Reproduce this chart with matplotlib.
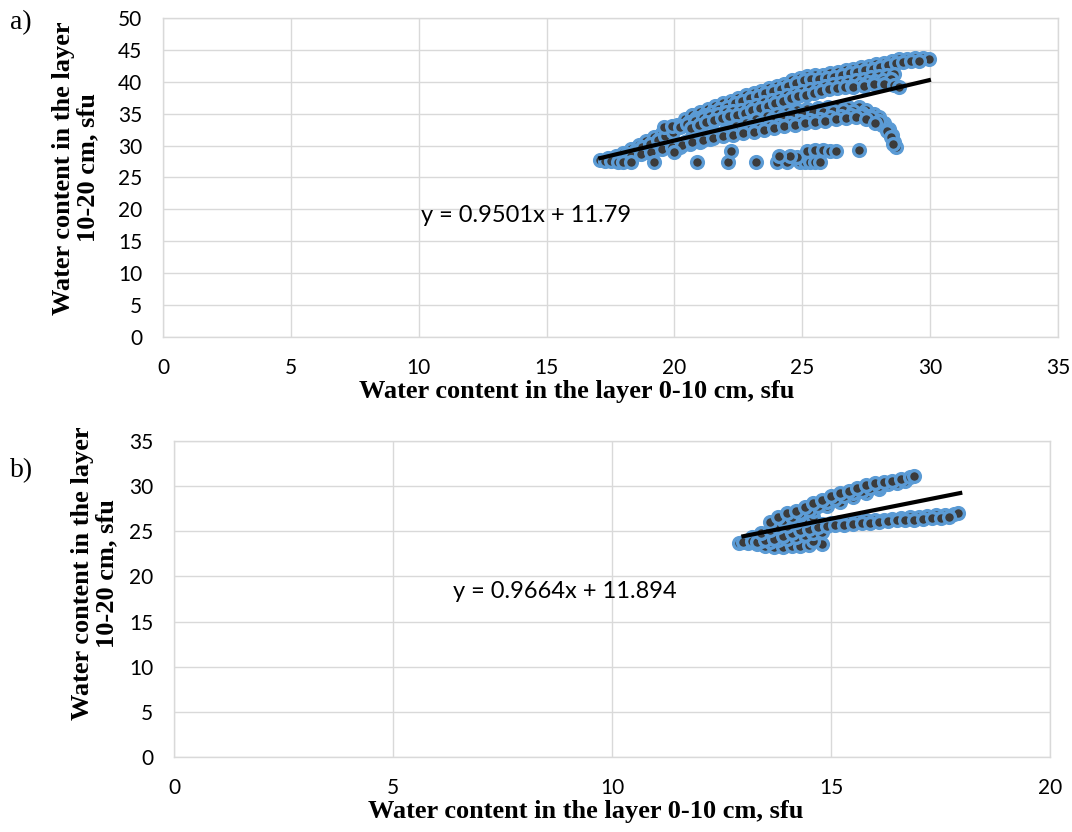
import numpy as np
import matplotlib
matplotlib.use('Agg')
import matplotlib.pyplot as plt

# Scatter of water content, layer 0-10 cm vs layer 10-20 cm (two periods)
# Values, band by band.

# ---- panel a) ----
a_x = [17.1, 17.4, 17.7, 18.0, 18.3, 18.6, 18.9, 19.2, 19.5, 19.8, 20.1, 20.4,
       20.7, 21.0, 21.3, 21.6, 21.9, 22.2, 22.5, 22.8, 23.1, 23.4, 23.7, 24.0,
       24.3, 24.6, 24.9, 25.2, 25.5, 25.8, 26.1, 26.4, 26.7, 27.0, 27.3, 27.6,
       27.9, 28.2, 28.5, 28.8, 29.1, 29.4, 29.7, 29.95,
       17.55, 17.85, 18.15, 18.45, 18.75, 19.05, 19.35, 19.65, 19.95, 20.25,
       20.55, 20.85, 21.15, 21.45, 21.75, 22.05, 22.35, 22.65, 22.95, 23.25,
       23.55, 23.85, 24.15, 24.45, 24.75, 25.05, 25.35, 25.65, 25.95, 26.25,
       26.55, 26.85, 27.15, 27.45, 27.75, 28.05, 28.35, 28.65, 28.95, 29.25,
       29.55,
       19.6, 19.9, 20.2, 20.5, 20.8, 21.1, 21.4, 21.7, 22.0, 22.3, 22.6, 22.9,
       23.2, 23.5, 23.8, 24.1, 24.4, 24.7, 25.0, 25.3, 25.6, 25.9, 26.2, 26.5,
       26.8, 27.1, 27.4, 27.7, 28.0, 28.3, 28.6,
       20.65, 20.95, 21.25, 21.55, 21.85, 22.15, 22.45, 22.75, 23.05, 23.35,
       23.65, 23.95, 24.25, 24.55, 24.85, 25.15, 25.45, 25.75, 26.05, 26.35,
       26.65, 26.95, 27.25, 27.55, 27.85, 28.15, 28.45,
       27.0, 27.4, 27.8, 28.2, 28.6, 28.8,
       20.0, 20.4, 20.8, 21.2, 21.6, 22.0, 22.4, 22.8, 23.2, 23.6, 24.0, 24.4,
       24.8, 25.2, 25.6, 26.0, 26.4, 26.8, 27.2, 27.5, 27.8, 28.0, 28.2, 28.4,
       28.5, 28.6, 28.65,
       20.2, 20.6, 21.0, 21.4, 21.8, 22.2, 22.6, 23.0, 23.4, 23.8, 24.2, 24.6,
       25.0, 25.4, 25.8, 26.2, 26.6, 27.0, 27.35, 27.65, 27.9, 28.1, 28.3,
       28.45, 28.55,
       17.3, 17.7, 18.1, 18.5, 18.9, 19.3, 19.7, 20.1, 20.5, 20.9, 21.3, 21.7,
       22.1, 22.5, 22.9, 23.3, 23.7, 24.1, 24.5, 24.9, 25.3, 25.7, 26.1, 26.5,
       26.9, 27.3, 27.7, 28.0,
       17.5, 17.9, 18.3, 18.7, 19.1, 19.5, 19.9, 20.3, 20.7, 21.1, 21.5, 21.9,
       22.3, 22.7, 23.1, 23.5, 23.9, 24.3, 24.7, 25.1, 25.5, 25.9, 26.3, 26.7,
       27.1, 27.5, 27.85,
       17.8, 18.0, 18.3, 19.2, 20.9, 22.1, 22.2, 23.2, 24.0, 24.4, 24.9, 25.1,
       25.3, 25.5, 25.7, 24.8, 25.2, 25.5, 25.8, 26.1, 26.3, 27.2, 20.0, 24.5,
       24.1]
a_y = [27.7, 28.0, 28.4, 28.9, 29.5, 30.1, 30.7, 31.3, 31.9, 32.5, 33.3, 34.1,
       34.8, 35.3, 35.8, 36.2, 36.6, 37.0, 37.5, 37.9, 38.2, 38.6, 39.0, 39.3,
       39.7, 40.2, 40.6, 40.9, 41.0, 41.1, 41.3, 41.5, 41.8, 42.0, 42.3, 42.5,
       42.8, 43.0, 43.3, 43.5, 43.6, 43.7, 43.7, 43.6,
       27.7, 28.1, 28.6, 29.1, 29.7, 30.3, 30.9, 31.5, 32.2, 33.0,
       33.7, 34.3, 34.8, 35.3, 35.7, 36.1, 36.6, 37.0, 37.4, 37.8,
       38.2, 38.5, 38.9, 39.4, 39.8, 40.2, 40.4, 40.5, 40.6, 40.8,
       41.0, 41.3, 41.5, 41.8, 42.0, 42.3, 42.6, 42.9, 43.1, 43.3,
       43.3,
       32.9, 33.0, 32.9, 33.4, 33.9, 34.3, 34.6, 35.0, 35.2, 35.4, 35.6, 36.0,
       36.4, 36.8, 37.1, 37.5, 37.9, 38.3, 38.6, 38.8, 39.0, 39.3, 39.6, 39.8,
       40.0, 40.2, 40.5, 40.7, 40.9, 41.1, 41.2,
       32.8, 33.3, 33.7, 34.0, 34.3, 34.6, 34.8, 35.1, 35.5, 35.9,
       36.2, 36.6, 37.0, 37.4, 37.8, 38.0, 38.2, 38.5, 38.8, 39.0,
       39.2, 39.4, 39.7, 39.9, 40.1, 40.3, 40.5,
       39.2, 39.4, 39.6, 39.6, 39.5, 39.2,
       30.2, 30.6, 31.0, 31.5, 32.0, 32.5, 33.0, 33.6, 34.1, 34.6, 35.0, 35.3,
       35.6, 35.8, 35.9, 36.0, 36.1, 36.1, 36.0, 35.6, 35.0, 34.4, 33.6, 32.6,
       31.6, 30.6, 29.7,
       29.8, 30.2, 30.6, 31.1, 31.6, 32.1, 32.6, 33.1, 33.6, 34.1, 34.5, 34.8,
       35.0, 35.2, 35.3, 35.4, 35.5, 35.4, 35.1, 34.6, 34.0, 33.2, 32.3,
       31.3, 30.3,
       27.6, 27.9, 28.3, 28.6, 29.0, 29.4, 29.8, 30.3, 30.7, 31.1, 31.4, 31.7,
       32.0, 32.2, 32.5, 32.7, 33.0, 33.2, 33.5, 33.8, 34.0, 34.2, 34.4, 34.6,
       34.8, 34.8, 34.4, 33.8,
       27.6, 27.9, 28.3, 28.6, 29.0, 29.4, 29.8, 30.1, 30.5, 30.9, 31.2, 31.5,
       31.7, 32.0, 32.2, 32.5, 32.7, 33.0, 33.2, 33.5, 33.7, 33.9, 34.1, 34.3,
       34.4, 34.2, 33.6,
       27.4, 27.4, 27.4, 27.4, 27.4, 27.4, 29.2, 27.4, 27.4, 27.4, 27.4, 27.5,
       27.4, 27.4, 27.4, 28.2, 29.2, 29.3, 29.3, 29.2, 29.2, 29.3, 29.0, 28.4,
       28.4]
a_slope, a_icept = 0.9501, 11.79
a_xrange = [17.1, 29.95]

# ---- panel b) ----
b_x = [12.9, 13.1, 13.3, 13.5, 13.7, 13.9, 14.1, 14.3, 14.5, 14.8, 14.6,
       13.2, 13.4, 13.6, 13.8, 14.0, 14.2, 14.4, 14.6, 14.8, 13.5, 13.7, 13.9,
       14.1,
       13.0, 13.2, 13.4, 13.6, 13.8, 14.0, 14.2, 14.4, 14.6, 14.8, 15.0, 15.2,
       15.4, 15.6, 15.8, 16.0, 16.2, 16.4, 16.6, 16.8, 17.0, 17.2, 17.4, 17.6,
       17.8, 17.9,
       13.3, 13.5, 13.7, 13.9, 14.1, 14.3, 14.5, 14.7, 14.9, 15.1, 15.3, 15.5,
       15.7, 15.9, 16.1, 16.3, 16.5, 16.7, 16.9, 17.1, 17.3, 17.5, 17.7,
       13.4, 13.6, 13.8, 14.0, 14.2, 14.4, 14.6,
       14.0, 14.3, 14.6, 14.9, 15.2, 15.5, 15.8, 16.1,
       13.9, 14.1, 14.3, 14.5, 14.7, 14.9, 15.1, 15.3, 15.5, 15.7, 15.9, 16.1,
       16.3, 16.5, 16.7,
       13.6, 13.8, 14.0, 14.2, 14.4, 14.6, 14.8, 15.0, 15.2, 15.4, 15.6, 15.8,
       16.0, 16.2, 16.4, 16.6, 16.8, 16.9]
b_y = [23.7, 23.7, 23.6, 23.4, 23.3, 23.3, 23.4, 23.4, 23.5, 23.6, 23.9,
       24.4, 23.9, 23.8, 24.0, 24.2, 24.4, 24.6, 24.8, 24.9, 24.6, 24.9, 25.1,
       25.3,
       23.8, 23.9, 24.1, 24.3, 24.6, 24.9, 25.2, 25.5, 25.7, 25.8, 25.9, 26.0,
       26.0, 26.1, 26.2, 26.2, 26.3, 26.4, 26.5, 26.6, 26.6, 26.7, 26.8, 26.8,
       26.9, 27.0,
       23.8, 24.0, 24.2, 24.5, 24.8, 25.1, 25.3, 25.5, 25.6, 25.7, 25.7, 25.8,
       25.9, 25.9, 26.0, 26.1, 26.2, 26.3, 26.3, 26.4, 26.5, 26.5, 26.6,
       24.8, 25.2, 25.5, 25.6, 26.0, 26.3, 26.6,
       26.2, 26.8, 27.3, 27.8, 28.3, 28.8, 29.3, 29.7,
       26.2, 26.6, 27.0, 27.4, 27.8, 28.2, 28.6, 28.9, 29.2, 29.5, 29.8, 30.0,
       30.2, 30.4, 30.6,
       26.0, 26.6, 27.0, 27.3, 27.7, 28.1, 28.5, 28.9, 29.2, 29.5, 29.8, 30.1,
       30.3, 30.5, 30.6, 30.8, 31.0, 31.1]
b_slope, b_icept = 0.9664, 11.894
b_xrange = [13.0, 17.95]

plt.rcParams['font.family'] = ['Lato', 'DejaVu Sans']
serif = 'Liberation Serif'
blue = '#5B9BD5'
dark = '#3B3B3B'
grid_col = '#D9D9D9'

fig = plt.figure(figsize=(10.72, 8.32), dpi=100)
ax1 = fig.add_axes([0.152, 0.595, 0.835, 0.3834])
ax2 = fig.add_axes([0.1623, 0.0901, 0.8172, 0.3798])


def style(ax, xmax, ymax, xstep, ystep):
    ax.set_xlim(0, xmax)
    ax.set_ylim(0, ymax)
    ax.set_xticks(np.arange(0, xmax + 1, xstep))
    ax.set_yticks(np.arange(0, ymax + 1, ystep))
    ax.grid(color=grid_col, linewidth=1.0)
    ax.set_axisbelow(True)
    for s in ax.spines.values():
        s.set_color(grid_col)
        s.set_linewidth(1.0)
    ax.tick_params(length=0, labelsize=15, colors='#000000', pad=15)


def panel(ax, xs, ys, slope, icept, xr, eq_pos, eq_text):
    ax.scatter(xs, ys, s=72, facecolor=dark, edgecolor=blue,
               linewidths=2.4, zorder=3)
    tx = np.array(xr)
    ax.plot(tx, slope * tx + icept, color='black', linewidth=3.0, zorder=4)
    ax.text(eq_pos[0], eq_pos[1], eq_text, fontsize=17, ha='left',
            va='center', zorder=5)


style(ax1, 35, 50, 5, 5)
panel(ax1, a_x, a_y, a_slope, a_icept, a_xrange, (10.1, 19.0),
      'y = 0.9501x + 11.79')
style(ax2, 20, 35, 5, 5)
panel(ax2, b_x, b_y, b_slope, b_icept, b_xrange, (6.37, 18.3),
      'y = 0.9664x + 11.894')

ylab = 'Water content in the layer\n10-20 cm, sfu'
xlab = 'Water content in the layer 0-10 cm, sfu'
for ax, ycoords in ((ax1, (-0.071, 0.53)), (ax2, (-0.063, 0.582))):
    ax.set_ylabel(ylab, family=serif, fontweight='bold', fontsize=19,
                  linespacing=1.1)
    ax.yaxis.set_label_coords(*ycoords)
    ax.set_xlabel(xlab, family=serif, fontweight='bold', fontsize=19)

ax1.xaxis.set_label_coords(0.462, -0.135)
ax2.xaxis.set_label_coords(0.47, -0.136)

fig.text(10 / 1072, 1 - 23 / 832, 'a)', family=serif, fontsize=20,
         ha='left', va='center')
fig.text(10 / 1072, 1 - 471 / 832, 'b)', family=serif, fontsize=20,
         ha='left', va='center')

fig.savefig('out.png', dpi=100)
